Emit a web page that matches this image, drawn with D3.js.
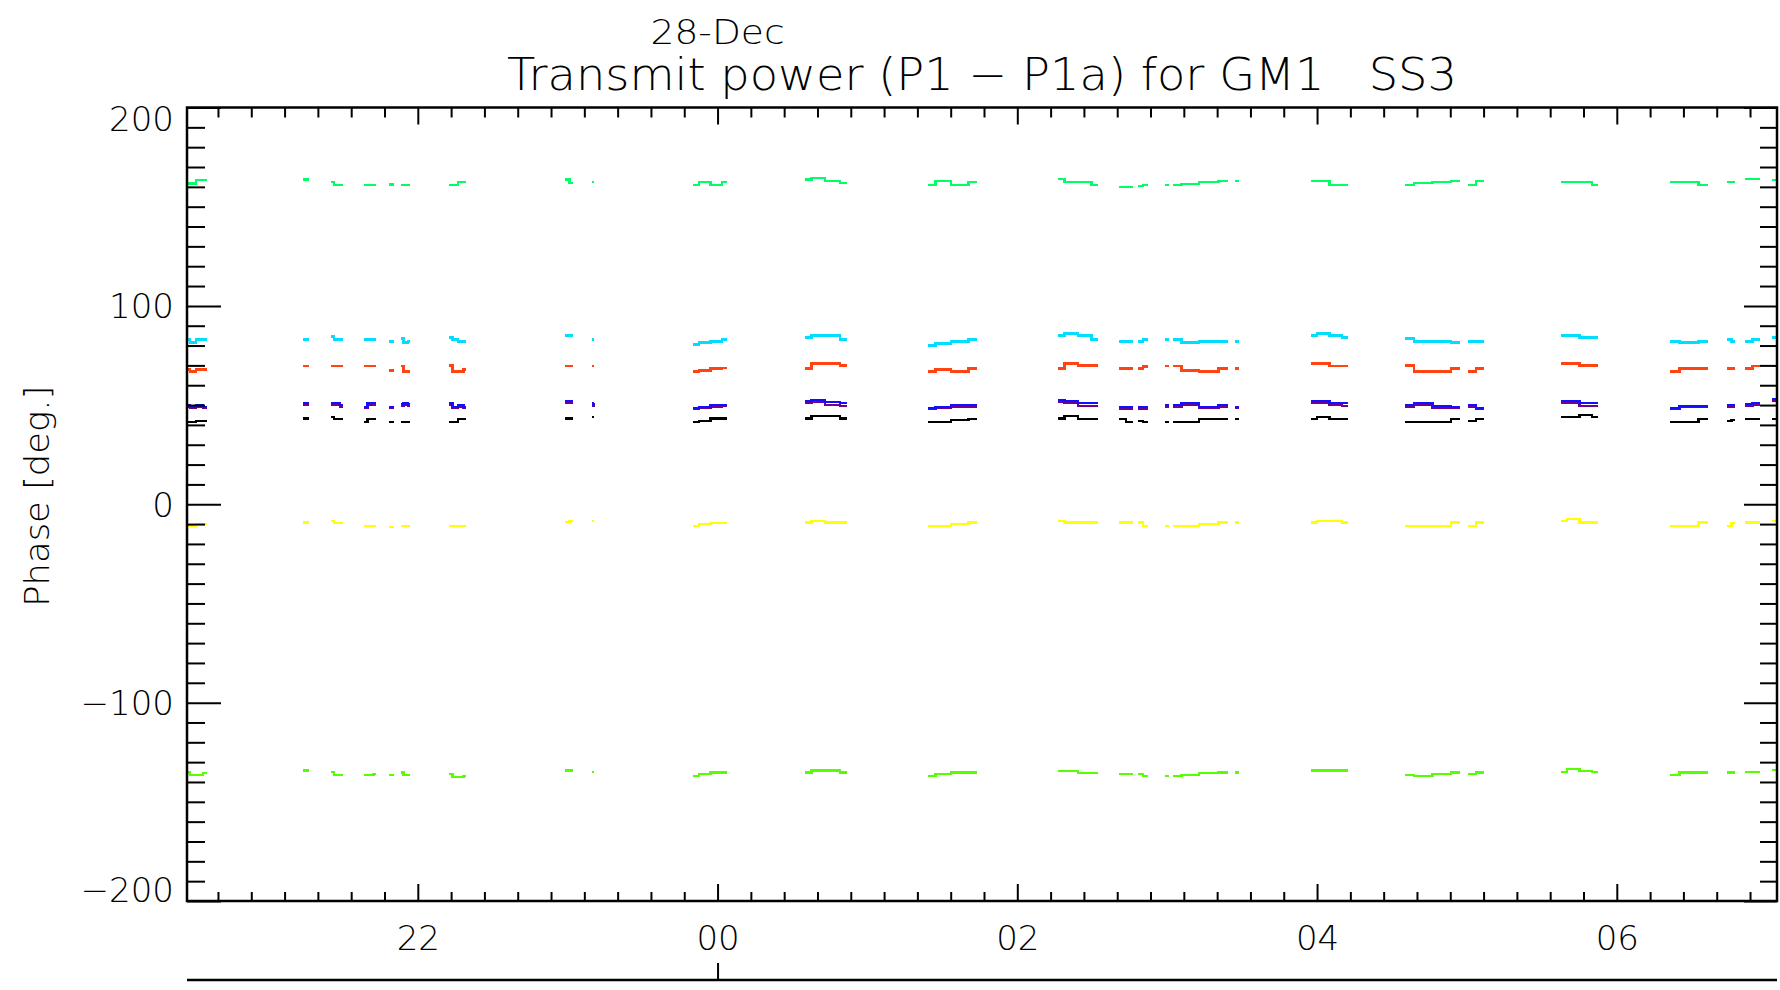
<!DOCTYPE html>
<html><head><meta charset="utf-8">
<script src="https://cdn.jsdelivr.net/npm/d3@7"></script>
<style>
body{margin:0;background:#fff;}
svg{display:block;}
text{font-family:"DejaVu Sans",sans-serif;font-weight:200;fill:#000;white-space:pre;}
</style>
</head><body>
<svg id="chart" width="1780" height="990"></svg>
<script>
// ---------------- data ----------------
const dayLabel = "28-Dec";
const titleText = "Transmit power (P1 \u2212 P1a) for GM1   SS3";
const yTitleText = "Phase [deg.]";
const timeStart = "2000-12-27T20:27:36";
const timeEnd = "2000-12-28T07:04:08";
const dayBoundary = "2000-12-28T00:00:00";
const yDomain = [-200, 200];
const yMajorTicks = [-200, -100, 0, 100, 200];
const xMajorTicks = ["2000-12-27T22:00:00", "2000-12-28T00:00:00", "2000-12-28T02:00:00", "2000-12-28T04:00:00", "2000-12-28T06:00:00"];
const xMajorLabels = ["22", "00", "02", "04", "06"];

// sample times, grouped in contiguous segments (gaps between segments)
const segments = [
  ["20:27:36","20:30:00","20:32:30","20:35:38"],
  ["21:14:10","21:16:34"],
  ["21:25:23","21:27:40","21:30:11"],
  ["21:38:35","21:41:00","21:43:23"],
  ["21:48:36","21:50:35"],
  ["21:53:24","21:55:10","21:57:00"],
  ["22:12:36","22:15:00","22:17:20","22:19:23"],
  ["22:59:02","23:02:13"],
  ["23:09:50","23:10:41"],
  ["23:50:17","23:55:00","23:59:30","00:03:54"],
  ["00:35:06","00:40:00","00:46:00","00:51:54"],
  ["01:24:22","01:30:00","01:37:00","01:43:59"],
  ["02:16:23","02:21:30","02:27:00","02:32:24"],
  ["02:40:48","02:46:12"],
  ["02:48:22","02:52:23"],
  ["02:59:06","03:00:43"],
  ["03:02:20","03:09:00","03:16:30","03:24:22"],
  ["03:27:11","03:28:48"],
  ["03:57:36","04:02:30","04:07:30","04:12:25"],
  ["04:35:13","04:42:30","04:50:00","04:57:18"],
  ["05:00:29","05:06:54"],
  ["05:37:44","05:42:30","05:47:30","05:52:34"],
  ["06:21:22","06:29:00","06:36:32"],
  ["06:44:13","06:47:24"],
  ["06:51:25","06:57:25"],
  ["07:02:13","07:05:00"]
];

const greenTop = [
  [161.8,161.8,163.4,163.4],[163.7,163.7],[162.5,161,161],[161,161,161],[161.3,161.3],
  [161,161,161],[161,161,162.5,162.5],[163.7,162],[162.5,162.5],[161,162.5,161,162.5],
  [163.7,164.5,163,162],[161,163,161,162.5],[164,162.5,162.5,161],[160,160],[160.5,161],
  [161,161],[161,161.5,162.5,163],[163,163],[163,163,161,161],[161,162,162.5,163],
  [161,163],[162.5,162.5,162.5,161],[162.5,162.5,161],[162.5,162.5],[164,164],[163.5,163.5]
];
const cyan = [
  [83,81.5,83,83],[83,83],[84.5,83,83],[83,83,83],[82,82],
  [83.5,81.5,82],[84,83,82,82],[85,85],[83,83],[80.5,81.5,82,83],
  [84,85,85,83],[80,81,82,83],[85,86,85,83],[82,82],[82,83],
  [83,83],[83,81.5,82,82],[82,82],[85,86,85,84],[83.5,82,82,81.5],
  [82,82],[85,85,84,84],[82,81.5,82],[83,82],[82,83],[84,84]
];
const orange = [
  [68,67,68,68],[69.7,69.7],[69.7,69.7,69.7],[69.7,69.7,69.7],[67.5,67.5],
  [69.7,67,67],[70,67,67,68],[69.7,69.7],[69.7,69.7],[67,67.5,68.5,68.7],
  [68.5,71,71,70],[67,68,67,68.5],[68.5,71,70,70],[68.5,68.5],[68.5,69.5],
  [69.7,69.7],[69.7,67.5,67,68.5],[68.5,68.5],[71,71,69.7,69.7],[70,67,67,68.5],
  [67,68.5],[71,71,70,70],[67,68.5,68.5],[68.5,68.5],[68.5,69.7],[69.7,69.7]
];
const purple = [
  [49,48.5,49,48.5],[50,50],[50,50,49],[48.5,50,50],[48.5,48.5],
  [49.5,50,49.5],[50,48.5,49,48.5],[51,51],[49.5,50],[48,48.5,49,49.5],
  [51,51.5,50,49.5],[48,48.5,49,49],[51.5,51,49.5,49.5],[48,48],[48,48],
  [49,49],[49,50,48.5,49],[48.5,48.5],[51,51,50,49.5],[49,50,48.5,48.5],
  [49,48],[51,51,49.5,49.5],[48,49,49],[49,49],[49.5,50],[52,52]
];
const blue = [
  [50,49,50,49],[51,51],[51,51,50],[49,51,51],[49,49],
  [50.5,51,50.5],[51,49,50,49],[52,52],[50,51],[48.5,49,50,50],
  [52,52.5,51.5,51],[48.5,49,50,50],[52.5,52,51,51],[49,49],[49,49],
  [50,50],[50,51,49,50],[49,49],[52,52,51,51],[50,51,49.5,49],
  [50,48.5],[52,52,51,51],[48.5,49.5,49.5],[50,50],[50.5,51],[53,53]
];
const black = [
  [41.5,41.5,42,42],[43.3,43.3],[44,43,43],[41.5,43,43],[41.5,41.5],
  [41.5,41.5,41.5],[41.5,41.5,43,43],[43.3,43.3],[44,44],[41.5,42,43.3,43.3],
  [43.3,44.5,44.5,43.3],[41.5,41.5,42.5,43],[43.3,44.5,43,43],[43,41.5],[42,41.5],
  [41.5,41.5],[41.5,41.5,43,43],[43,43],[43,44,43,43],[41.5,41.5,41.5,43],
  [42,43],[44,44,45,44],[41.5,41.5,43],[42,42.5],[43,43],[43,43]
];
const yellow = [
  [-11,-11,-10,-10],[-9.3,-9.3],[-8.5,-9.5,-9.5],[-11,-11,-11],[-11.5,-11.5],
  [-11,-11,-11],[-11,-11,-11,-11],[-9,-8.5],[-8.5,-8.5],[-11,-10,-9.5,-9.5],
  [-9.3,-8.5,-9.3,-9.3],[-11,-11,-10,-9.3],[-8.5,-9.3,-9.3,-9.3],[-9.3,-9.3],[-9.3,-11],
  [-11,-11],[-11,-11,-10,-9.3],[-9.3,-9.3],[-9.3,-8.5,-8.5,-9.3],[-11,-11,-11,-9.3],
  [-11,-9.3],[-8.5,-7.5,-9.3,-9.3],[-11,-11,-9.3],[-11,-9.5],[-9.3,-9.3],[-8.5,-8.5]
];
const greenBottom = [
  [-135.3,-136.5,-136.5,-135.5],[-134.3,-134.3],[-135,-136.5,-136.5],[-136.5,-136.5,-136],[-136.5,-136.5],
  [-135.3,-136.5,-136.5],[-136,-137.5,-137.5,-137],[-134.3,-134.3],[-135,-135],[-137,-136,-135.3,-135.3],
  [-135.3,-134.3,-134.3,-135.3],[-137,-136,-135.3,-135.3],[-134.5,-134.5,-135.5,-135.5],[-136,-136],[-136,-137],
  [-137,-137],[-137,-136.5,-135.5,-135.3],[-135.3,-135.3],[-134.3,-134.3,-134.3,-134.3],[-136.5,-137,-136,-135.3],
  [-136,-135.3],[-135,-133.5,-134.5,-135],[-136.5,-135.3,-135.3],[-135.3,-135.3],[-135,-135],[-134,-134]
];

const seriesNames  = ["greenTop","greenBottom","yellow","cyan","orange","purple","blue","black"];
const seriesValues = [greenTop, greenBottom, yellow, cyan, orange, purple, blue, black];
const seriesColors = ["#00ff66","#55ff00","#ffff00","#00ddff","#ff4411","#700090","#1010ff","#000000"];

// ---------------- layout ----------------
const svg = d3.select("#chart");
const M = {left:187, right:1777, top:107.5, bottom:901};

const parseT = d3.timeParse("%Y-%m-%dT%H:%M:%S");
function toDate(hms){
  const h = +hms.slice(0,2);
  return parseT((h >= 12 ? "2000-12-27T" : "2000-12-28T") + hms);
}

const x = d3.scaleTime().domain([parseT(timeStart), parseT(timeEnd)]).range([M.left, M.right]);
const y = d3.scaleLinear().domain(yDomain).range([M.bottom, M.top]);

// clip
svg.append("clipPath").attr("id","clip").append("rect")
  .attr("x",M.left).attr("y",M.top).attr("width",M.right-M.left).attr("height",M.bottom-M.top);

// series
const line = d3.line().x(d=>x(d.t)).y(d=>y(d.v)).curve(d3.curveStep);
const gData = svg.append("g").attr("clip-path","url(#clip)");
seriesValues.forEach((vals, si) => {
  segments.forEach((seg, k) => {
    const pts = seg.map((t,i)=>({t:toDate(t), v:vals[k][i]}));
    gData.append("path").datum(pts)
      .attr("d", line)
      .attr("fill","none")
      .attr("stroke", seriesColors[si])
      .attr("stroke-width", 2.6)
      .attr("shape-rendering","crispEdges");
  });
});

// axes
const yMinor = d3.range(yDomain[0], yDomain[1]+1, 10).filter(v => !yMajorTicks.includes(v));
const majorDates = xMajorTicks.map(s=>parseT(s));
const xMinor = d3.range(parseT("2000-12-27T20:00:00").getTime(), parseT(timeEnd).getTime(), 800*1000)
  .map(t=>new Date(t))
  .filter(d => d >= x.domain()[0] && !majorDates.some(m=>m.getTime()===d.getTime()));

function clean(g){ g.select(".domain").remove(); g.selectAll("line").attr("stroke","#000").attr("stroke-width",2); }

// left
svg.append("g").attr("transform",`translate(${M.left},0)`)
  .call(d3.axisLeft(y).tickValues(yMinor).tickSizeInner(-18).tickSizeOuter(0).tickFormat(""))
  .call(clean);
const gl = svg.append("g").attr("transform",`translate(${M.left},0)`)
  .call(d3.axisLeft(y).tickValues(yMajorTicks).tickSizeInner(-34).tickSizeOuter(0).tickPadding(13)
        .tickFormat(d => d < 0 ? "\u2212" + Math.abs(d) : String(d)))
  .call(clean);
gl.selectAll("text").attr("font-size",34).attr("font-family","DejaVu Sans").attr("fill","#000")
  .attr("dy", d => d === yDomain[1] ? "0.69em" : d === yDomain[0] ? "0em" : "0.35em");

// right
svg.append("g").attr("transform",`translate(${M.right},0)`)
  .call(d3.axisRight(y).tickValues(yMinor).tickSizeInner(-17).tickSizeOuter(0).tickFormat(""))
  .call(clean);
svg.append("g").attr("transform",`translate(${M.right},0)`)
  .call(d3.axisRight(y).tickValues(yMajorTicks).tickSizeInner(-33).tickSizeOuter(0).tickFormat(""))
  .call(clean);

// bottom
svg.append("g").attr("transform",`translate(0,${M.bottom})`)
  .call(d3.axisBottom(x).tickValues(xMinor).tickSizeInner(-9).tickSizeOuter(0).tickFormat(""))
  .call(clean);
const gb = svg.append("g").attr("transform",`translate(0,${M.bottom})`)
  .call(d3.axisBottom(x).tickValues(majorDates).tickSizeInner(-17).tickSizeOuter(0).tickPadding(25)
        .tickFormat((d,i)=>xMajorLabels[i]))
  .call(clean);
gb.selectAll("text").attr("font-size",34).attr("font-family","DejaVu Sans").attr("fill","#000").attr("dy","0.71em");

// top
svg.append("g").attr("transform",`translate(0,${M.top})`)
  .call(d3.axisTop(x).tickValues(xMinor).tickSizeInner(-10).tickSizeOuter(0).tickFormat(""))
  .call(clean);
svg.append("g").attr("transform",`translate(0,${M.top})`)
  .call(d3.axisTop(x).tickValues(majorDates).tickSizeInner(-17).tickSizeOuter(0).tickFormat(""))
  .call(clean);

// frame
svg.append("rect").attr("x",M.left).attr("y",M.top).attr("width",M.right-M.left).attr("height",M.bottom-M.top)
  .attr("fill","none").attr("stroke","#000").attr("stroke-width",2.5);

// secondary day axis
const dayY = 980;
svg.append("g").attr("transform",`translate(0,${dayY})`)
  .call(d3.axisTop(x).tickValues([parseT(dayBoundary)]).tickSizeInner(17).tickSizeOuter(0).tickFormat(""))
  .call(g=>g.select(".domain").remove())
  .call(g=>g.selectAll("line").attr("stroke","#000").attr("stroke-width",2));
svg.append("line").attr("x1",M.left).attr("x2",M.right).attr("y1",dayY).attr("y2",dayY)
  .attr("stroke","#000").attr("stroke-width",2.5);

// titles
svg.append("text").attr("x",x(parseT(dayBoundary))).attr("y",44).attr("text-anchor","middle")
  .attr("font-size",34).attr("textLength",134).attr("lengthAdjust","spacingAndGlyphs").text(dayLabel);
svg.append("text").attr("x",(M.left+M.right)/2).attr("y",90).attr("text-anchor","middle")
  .attr("xml:space","preserve")
  .attr("font-size",44).attr("textLength",950).attr("lengthAdjust","spacingAndGlyphs").text(titleText);
svg.append("text").attr("transform",`translate(49,${(M.top+M.bottom)/2 - 8}) rotate(-90)`)
  .attr("text-anchor","middle").attr("font-size",33).attr("textLength",221).attr("lengthAdjust","spacingAndGlyphs")
  .text(yTitleText);
</script>
</body></html>
